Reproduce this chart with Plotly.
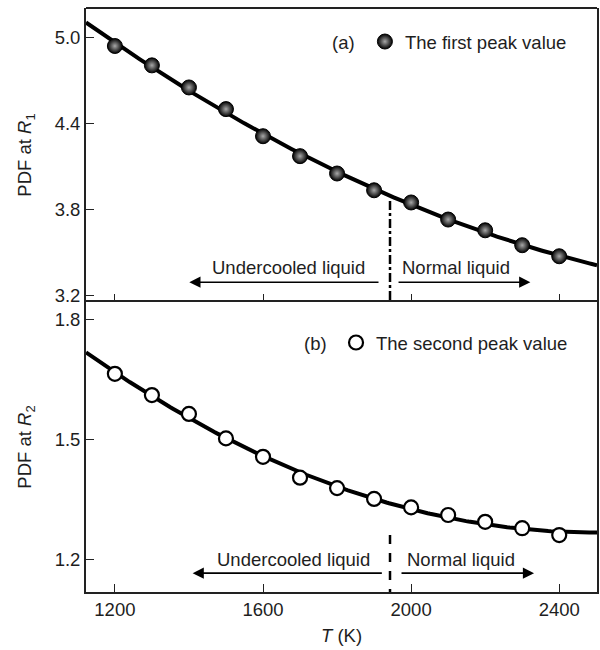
import numpy as np
import plotly.graph_objects as go
from plotly.subplots import make_subplots

# ---- data ----
T = [1200, 1300, 1400, 1500, 1600, 1700, 1800, 1900, 2000, 2100, 2200, 2300, 2400]
pdf_r1 = [4.94, 4.805, 4.651, 4.50, 4.311, 4.172, 4.051, 3.934, 3.849, 3.730, 3.655, 3.551, 3.474]
pdf_r2 = [1.664, 1.611, 1.564, 1.503, 1.457, 1.405, 1.379, 1.352, 1.331, 1.312, 1.295, 1.279, 1.262]
T_boundary = 1943
x_range = [1122, 2502]
y1_range = [3.155, 5.205]
y2_range = [1.12, 1.843]
x_ticks = [1200, 1600, 2000, 2400]
y1_ticks = [3.2, 3.8, 4.4, 5.0]
y2_ticks = [1.2, 1.5, 1.8]

FONT = "Liberation Sans, Arial, sans-serif"
TXT = "#1e1e1e"
FS = 18.5

# fitted curves (quadratic regression of the data)
t_fit = np.linspace(x_range[0], x_range[1], 200)
fit1 = np.polyval(np.polyfit(T, pdf_r1, 2), t_fit)
fit2 = np.polyval(np.polyfit(T, pdf_r2, 2), t_fit)

bot_frac = 290 / 584
fig = make_subplots(rows=2, cols=1, shared_xaxes=True, vertical_spacing=0,
                    row_heights=[1 - bot_frac, bot_frac])

fig.add_trace(go.Scatter(x=t_fit, y=fit1, mode="lines", line=dict(color="black", width=4),
                         showlegend=False, hoverinfo="skip"), row=1, col=1)
fig.add_trace(go.Scatter(x=T, y=pdf_r1, mode="markers", name="The first peak value",
                         marker=dict(size=15, color="#000000",
                                     gradient=dict(type="radial", color="#a8a8a8"),
                                     line=dict(color="black", width=1)),
                         legend="legend"), row=1, col=1)
fig.add_trace(go.Scatter(x=t_fit, y=fit2, mode="lines", line=dict(color="black", width=4),
                         showlegend=False, hoverinfo="skip"), row=2, col=1)
fig.add_trace(go.Scatter(x=T, y=pdf_r2, mode="markers", name="The second peak value",
                         marker=dict(size=14, color="white", line=dict(color="black", width=2.2)),
                         legend="legend2"), row=2, col=1)

# boundary lines
fig.add_shape(type="line", x0=T_boundary, x1=T_boundary, y0=3.86, y1=y1_range[0],
              xref="x", yref="y", line=dict(color="black", width=2.5, dash="dashdot"))
fig.add_shape(type="line", x0=T_boundary, x1=T_boundary, y0=1.262, y1=y2_range[0],
              xref="x2", yref="y2", line=dict(color="black", width=2.5, dash="dash"))
# top border of the upper panel
fig.add_shape(type="line", x0=0, x1=1, y0=1, y1=1, xref="paper", yref="y domain",
              line=dict(color="#222", width=1.8))

# arrows and region labels
def region(xr, yr, y_arrow, y_text, und_text_x, nor_text_x, l_tail, l_head, r_tail, r_head):
    for tail, head in ((l_tail, l_head), (r_tail, r_head)):
        fig.add_annotation(x=head, y=y_arrow, ax=tail, ay=y_arrow, xref=xr, yref=yr,
                           axref=xr, ayref=yr, text="", showarrow=True, arrowhead=2,
                           arrowsize=1.4, arrowwidth=1.6, arrowcolor="black")
    fig.add_annotation(x=und_text_x, y=y_text, xref=xr, yref=yr, text="Undercooled liquid",
                       showarrow=False, font=dict(family=FONT, size=FS, color=TXT))
    fig.add_annotation(x=nor_text_x, y=y_text, xref=xr, yref=yr, text="Normal liquid",
                       showarrow=False, font=dict(family=FONT, size=FS, color=TXT))

region("x", "y", 3.293, 3.395, 1670, 2121, 1916, 1401, 1962, 2322)
region("x2", "y2", 1.167, 1.200, 1683, 2136, 1925, 1410, 1970, 2332)

W, H = 600, 650
ml, mr, mt, mb = 86, 1, 8, 58
pw, ph = W - ml - mr, H - mt - mb

# panel labels (pixel positions converted to paper coords)
for txt, px, py in (("(a)", 345, 42), ("(b)", 316, 343)):
    fig.add_annotation(x=(px - ml) / pw, y=1 - (py - mt) / ph, xref="paper", yref="paper",
                       xanchor="center", yanchor="middle", text=txt, showarrow=False,
                       font=dict(family=FONT, size=FS, color=TXT))

axis_common = dict(linecolor="#222", linewidth=1.8,
                   ticks="inside", ticklen=8, tickwidth=1.3, tickcolor="#222",
                   showgrid=False, zeroline=False,
                   tickfont=dict(family=FONT, size=FS, color=TXT))

fig.update_xaxes(range=x_range, tickvals=x_ticks, **axis_common)
fig.update_xaxes(showticklabels=False, showline=False, row=1, col=1)
fig.update_xaxes(showline=True, mirror=True,
                 title=dict(text="<i>T</i> (K)", font=dict(family=FONT, size=FS, color=TXT),
                            standoff=10), row=2, col=1)
fig.update_yaxes(showline=True, mirror=True, **axis_common)
fig.update_yaxes(range=y1_range, tickvals=y1_ticks, ticktext=["3.2", "3.8", "4.4", "5.0"],
                 title=dict(text="PDF at <i>R</i><sub>1</sub>",
                            font=dict(family=FONT, size=FS, color=TXT), standoff=18),
                 row=1, col=1)
fig.update_yaxes(range=y2_range, tickvals=y2_ticks, ticktext=["1.2", "1.5", "1.8"],
                 title=dict(text="PDF at <i>R</i><sub>2</sub>",
                            font=dict(family=FONT, size=FS, color=TXT), standoff=18),
                 row=2, col=1)

legend_common = dict(font=dict(family=FONT, size=FS, color=TXT), bgcolor="rgba(0,0,0,0)",
                     xanchor="left", yanchor="middle", itemwidth=30)
fig.update_layout(
    width=W, height=H, margin=dict(l=ml, r=mr, t=mt, b=mb),
    paper_bgcolor="white", plot_bgcolor="white",
    legend=dict(x=(366 - ml) / pw, y=1 - (42 - mt) / ph, **legend_common),
    legend2=dict(x=(337 - ml) / pw, y=1 - (343 - mt) / ph, **legend_common),
)

fig.write_html("out.html")
